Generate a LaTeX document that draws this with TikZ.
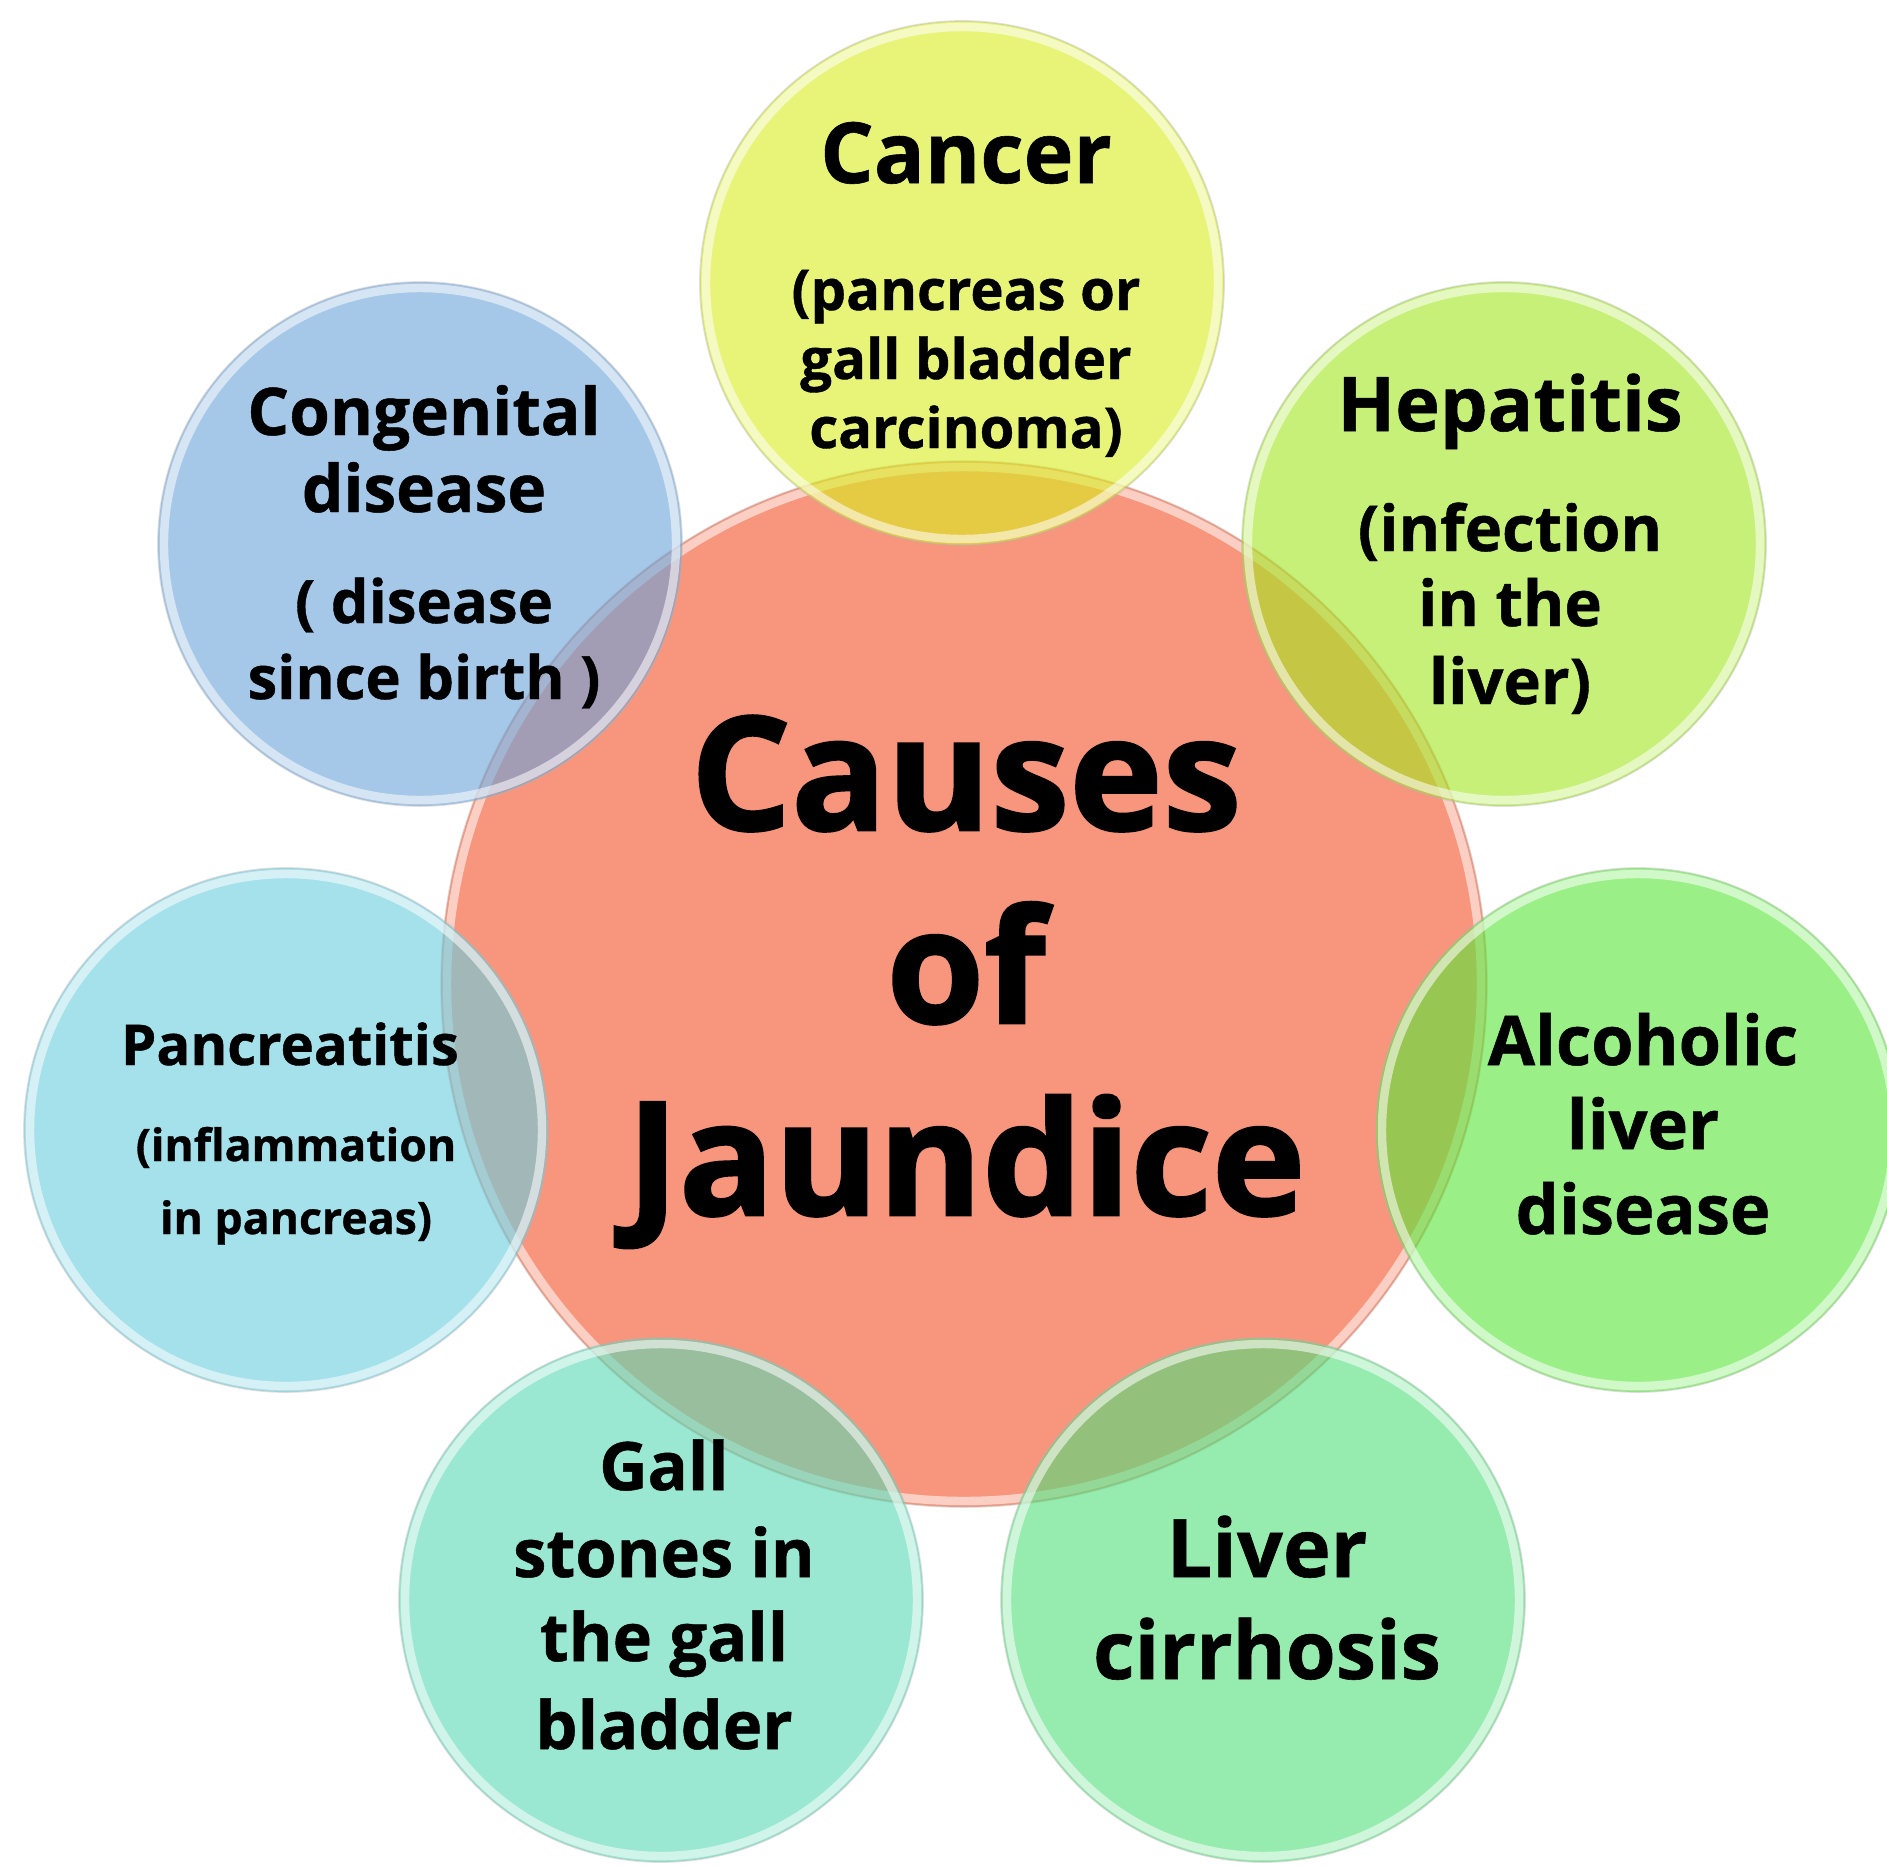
\documentclass[tikz,border=0pt]{standalone}
\usepackage{fontspec}
\setmainfont{Open Sans}
\newfontfamily\heavyfont{Open Sans}[FakeBold=1.6]
\newfontfamily\semiheavyfont{Open Sans}[FakeBold=0.7]
\definecolor{salmonC}{RGB}{248,150,125}
\definecolor{cancerC}{RGB}{217,238,30}
\definecolor{hepC}{RGB}{163,230,30}
\definecolor{alcC}{RGB}{88,230,55}
\definecolor{cirC}{RGB}{80,222,122}
\definecolor{galC}{RGB}{88,217,180}
\definecolor{panC}{RGB}{105,205,222}
\definecolor{conC}{RGB}{105,163,217}
\tikzset{
  bubble/.style={circle, inner sep=0pt, outer sep=0pt, minimum size=5.24cm, fill=#1, fill opacity=0.6, draw=none},
  hub/.style={circle, inner sep=0pt, outer sep=0pt, minimum size=10.46cm, fill=salmonC, draw=none},
  gloss/.style={white, opacity=0.55, line width=2.4pt},
  edge/.style={black!30, opacity=0.4, line width=0.5pt},
  lbl/.style={anchor=base, inner sep=0pt, outer sep=0pt, text=black}
}
\newcommand\fsz[1]{\semiheavyfont\fontsize{#1}{#1}\selectfont\bfseries}
\newcommand\tsz[1]{\heavyfont\fontsize{#1}{#1}\selectfont\bfseries}
\begin{document}
\begin{tikzpicture}
\useasboundingbox (0,0) rectangle (18.87,-18.67);
\fill[white] (0,0) rectangle (18.87,-18.67);
% central circle
\node[hub] (hubc) at (9.64,-9.84) {};
\draw[gloss] (hubc.center) circle[radius=5.17];
\draw[edge] (hubc.center) circle[radius=5.23];
% surrounding circles
\foreach \nm/\x/\y/\c in {can/9.62/-2.83/cancerC, hep/15.04/-5.44/hepC, alc/16.38/-11.30/alcC, cir/12.63/-16.00/cirC, gal/6.61/-16.00/galC, pan/2.86/-11.30/panC, con/4.20/-5.44/conC}{
  \node[bubble=\c] (\nm) at (\x,\y) {};
  \draw[gloss] (\nm.center) circle[radius=2.56];
  \draw[edge] (\nm.center) circle[radius=2.62];
}
% title
\node[lbl, font=\tsz{45pt}] (t1) at (9.66,-8.30) {Causes};
\node[lbl, font=\tsz{45pt}] (t2) at (9.66,-10.23) {of};
\node[lbl, font=\tsz{45pt}] (t3) at (9.66,-12.15) {Jaundice};
% cancer
\node[lbl, font=\fsz{24pt}] (can1) at (9.66,-1.83) {Cancer};
\node[lbl, font=\fsz{16pt}] (can2) at (9.66,-3.10) {(pancreas or};
\node[lbl, font=\fsz{16pt}] (can3) at (9.66,-3.79) {gall bladder};
\node[lbl, font=\fsz{16pt}] (can4) at (9.66,-4.48) {carcinoma)};
% hepatitis
\node[lbl, font=\fsz{21.5pt}] (hep1) at (15.10,-4.31) {Hepatitis};
\node[lbl, font=\fsz{18pt}] (hep2) at (15.10,-5.51) {(infection};
\node[lbl, font=\fsz{18pt}] (hep3) at (15.10,-6.26) {in the};
\node[lbl, font=\fsz{18pt}] (hep4) at (15.10,-7.04) {liver)};
% alcoholic
\node[lbl, font=\fsz{19.5pt}] (alc1) at (16.43,-10.65) {Alcoholic};
\node[lbl, font=\fsz{19.5pt}] (alc2) at (16.43,-11.49) {liver};
\node[lbl, font=\fsz{19.5pt}] (alc3) at (16.43,-12.34) {disease};
% cirrhosis
\node[lbl, font=\fsz{23pt}] (cir1) at (12.67,-15.77) {Liver};
\node[lbl, font=\fsz{23pt}] (cir2) at (12.67,-16.79) {cirrhosis};
% gall stones
\node[lbl, font=\fsz{19pt}] (gal1) at (6.64,-14.90) {Gall};
\node[lbl, font=\fsz{19pt}] (gal2) at (6.64,-15.77) {stones in};
\node[lbl, font=\fsz{19pt}] (gal3) at (6.64,-16.61) {the gall};
\node[lbl, font=\fsz{19pt}] (gal4) at (6.64,-17.49) {bladder};
% pancreatitis
\node[lbl, font=\fsz{16pt}] (pan1) at (2.90,-10.65) {Pancreatitis};
\node[lbl, font=\fsz{12.7pt}] (pan2) at (2.96,-11.61) {(inflammation};
\node[lbl, font=\fsz{12.7pt}] (pan3) at (2.96,-12.34) {in pancreas)};
% congenital
\node[lbl, font=\fsz{18.7pt}] (con1) at (4.24,-4.35) {Congenital};
\node[lbl, font=\fsz{18.7pt}] (con2) at (4.24,-5.12) {disease};
\node[lbl, font=\fsz{17pt}] (con3) at (4.24,-6.23) {( disease};
\node[lbl, font=\fsz{17pt}] (con4) at (4.24,-6.99) {since birth )};
\end{tikzpicture}
\end{document}
